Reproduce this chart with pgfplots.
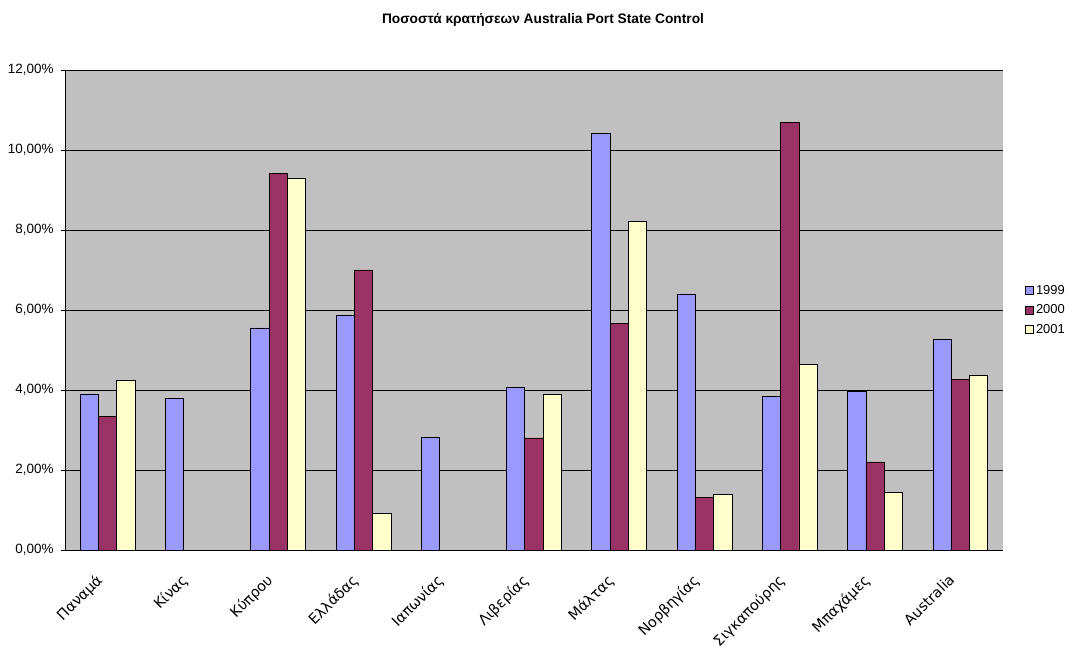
\documentclass[border=0pt]{standalone}
\usepackage{fontspec}
\setmainfont{Liberation Sans}
\newfontfamily\labelfont{DejaVu Sans}
\usepackage{pgfplots}
\usepackage{pgfplotstable}
\pgfplotsset{compat=1.18}

\definecolor{yrA}{HTML}{9999FF}
\definecolor{yrB}{HTML}{993366}
\definecolor{yrC}{HTML}{FFFFCC}
\definecolor{plotbg}{HTML}{C0C0C0}

% detention rates (%) per flag, one table per year
\pgfplotstableread{
x y
0 3.90
1 3.79
2 5.55
3 5.87
4 2.81
5 4.06
6 10.42
7 6.40
8 3.84
9 3.96
10 5.26
}\tabA
\pgfplotstableread{
x y
0 3.34
2 9.42
3 7.00
5 2.80
6 5.67
7 1.32
8 10.69
9 2.20
10 4.27
}\tabB
\pgfplotstableread{
x y
0 4.24
2 9.30
3 0.91
5 3.89
6 8.21
7 1.38
8 4.64
9 1.44
10 4.36
}\tabC

\pgfplotsset{
  sqlegend/.style={legend image code/.code={%
    \draw[#1,draw=black,line width=0.8bp] (0bp,-4bp) rectangle (8bp,4bp);}},
}

\begin{document}
\begin{tikzpicture}
\useasboundingbox (-65bp,-96bp) rectangle (1016bp,550bp);
\begin{axis}[
  at={(0,0)}, anchor=south west,
  scale only axis,
  width=938bp, height=480bp,
  xmin=-0.5, xmax=10.5,
  ymin=0, ymax=12,
  ybar=0pt, bar width=18.3bp,
  axis background/.style={fill=plotbg},
  axis line style={draw=gray!80!black, line width=0.8bp},
  axis x line*=bottom, axis y line*=left,
  x axis line style={draw=black, -},
  y axis line style={draw=black, -},
  tick align=outside,
  major tick length=4bp,
  ytick={0,2,4,6,8,10,12},
  yticklabels={{0,00\%},{2,00\%},{4,00\%},{6,00\%},{8,00\%},{10,00\%},{12,00\%}},
  yticklabel style={font=\fontsize{13.5}{15}\selectfont, xshift=-4bp},
  ymajorgrids,
  major grid style={black, line width=0.8bp},
  ytick style={black, line width=0.8bp},
  xtick={0,...,10},
  xticklabels={Παναμά,Κίνας,Κύπρου,Ελλάδας,Ιαπωνίας,Λιβερίας,Μάλτας,Νορβηγίας,Σιγκαπούρης,Μπαχάμες,Australia},
  xtick style={draw=none},
  xticklabel style={rotate=45, anchor=north east,
    font=\labelfont\fontsize{14.5}{17}\selectfont, xshift=-19bp, yshift=-1bp},
  extra x ticks={-0.5,0.5,...,10.5},
  extra x tick labels={},
  extra x tick style={grid=none, major tick length=5bp,
    tick style={draw=black, line width=0.8bp}},
  legend style={at={(1,0.5)}, anchor=west, xshift=22bp, draw=none, fill=none,
    font=\fontsize{13}{15}\selectfont, row sep=5bp, inner sep=0pt},
  every axis plot/.append style={draw=black, line width=0.8bp},
]
\addplot[fill=yrA, sqlegend] table {\tabA};
\addplot[fill=yrB, sqlegend] table {\tabB};
\addplot[fill=yrC, sqlegend] table {\tabC};
\legend{1999,2000,2001}
\end{axis}
\node[font=\bfseries\fontsize{13.8}{16}\selectfont] at (478bp,530bp)
  {Ποσοστά κρατήσεων Australia Port State Control};
\end{tikzpicture}
\end{document}
